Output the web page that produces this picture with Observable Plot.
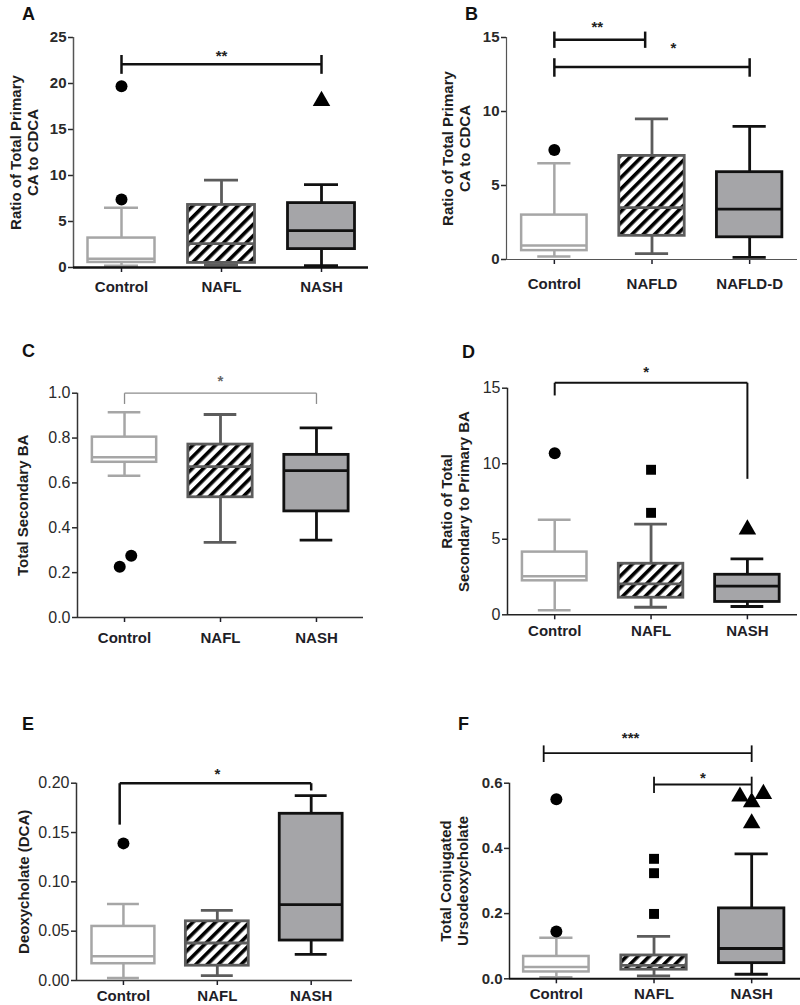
<!DOCTYPE html>
<html>
<head>
<meta charset="utf-8">
<script src="https://cdn.jsdelivr.net/npm/d3@7"></script>
<script src="https://cdn.jsdelivr.net/npm/@observablehq/plot@0.6"></script>
<style>
  html, body { margin: 0; padding: 0; background: #fff; }
  #fig { position: relative; width: 800px; height: 1005px; overflow: hidden; font-family: "Liberation Sans", Arial, sans-serif; }
  .panel { position: absolute; }
  .letter { position: absolute; font: bold 18px/18px "Liberation Sans", Arial, sans-serif; color: #111; }
</style>
</head>
<body>
<div id="fig"></div>
<script>
// ---------------- DATA ----------------
// Panel A: Ratio of Total Primary CA to CDCA
const aGroups = ["Control", "NAFL", "NASH"];
const aLow  = [0.2, 0.3, 0.2];
const aQ1   = [0.55, 0.5, 2.0];
const aMed  = [0.95, 2.6, 4.0];
const aQ3   = [3.2, 6.8, 7.0];
const aHigh = [6.5, 9.5, 9.0];
const aOutGroup = [0, 0, 2];
const aOutValue = [19.7, 7.4, 18.1];
const aOutShift = [0, 0, 0];
const aYTicks = [0, 5, 10, 15, 20, 25];
const aSigFrom = [0], aSigTo = [2], aSigY = [22.1];
const aSigFromLo = [21.05], aSigFromHi = [23.1], aSigToLo = [21.05], aSigToHi = [23.1];
const aSigLabel = ["**"], aSigLabelX = [1], aSigLabelY = [23.4];

// Panel B: Ratio of Total Primary CA to CDCA (NAFLD / NAFLD-D)
const bGroups = ["Control", "NAFLD", "NAFLD-D"];
const bLow  = [0.2, 0.4, 0.15];
const bQ1   = [0.6, 1.6, 1.5];
const bMed  = [0.95, 3.5, 3.4];
const bQ3   = [3.0, 7.0, 5.9];
const bHigh = [6.5, 9.5, 9.0];
const bOutGroup = [0];
const bOutValue = [7.4];
const bOutShift = [0];
const bYTicks = [0, 5, 10, 15];
const bSigFrom = [0, 0], bSigTo = [0.93, 2], bSigY = [14.85, 13.0];
const bSigFromLo = [14.3, 12.35], bSigFromHi = [15.4, 13.6], bSigToLo = [14.3, 12.35], bSigToHi = [15.4, 13.6];
const bSigLabel = ["**", "*"], bSigLabelX = [0.44, 1.22], bSigLabelY = [16.0, 14.55];

// Panel C: Total Secondary BA
const cGroups = ["Control", "NAFL", "NASH"];
const cLow  = [0.632, 0.335, 0.345];
const cQ1   = [0.692, 0.536, 0.473];
const cMed  = [0.714, 0.673, 0.655];
const cQ3   = [0.804, 0.771, 0.725];
const cHigh = [0.915, 0.905, 0.845];
const cOutGroup = [0, 0];
const cOutValue = [0.226, 0.275];
const cOutShift = [-0.05, 0.07];
const cYTicks = [0, 0.2, 0.4, 0.6, 0.8, 1.0];
const cSigFrom = [0], cSigTo = [2], cSigY = [1.0];
const cSigFromLo = [0.952], cSigFromHi = [1.0], cSigToLo = [0.952], cSigToHi = [1.0];
const cSigLabel = ["*"], cSigLabelX = [1], cSigLabelY = [1.071];

// Panel D: Ratio of Total Secondary to Primary BA
const dGroups = ["Control", "NAFL", "NASH"];
const dLow  = [0.3, 0.5, 0.55];
const dQ1   = [2.25, 1.13, 0.85];
const dMed  = [2.55, 2.05, 1.9];
const dQ3   = [4.15, 3.38, 2.65];
const dHigh = [6.3, 6.0, 3.7];
const dOutGroup = [0, 1, 1, 2];
const dOutValue = [10.7, 9.6, 6.75, 5.65];
const dOutShift = [0, 0, 0, 0];
const dYTicks = [0, 5, 10, 15];
const dSigFrom = [0], dSigTo = [2], dSigY = [15.36];
const dSigFromLo = [14.52], dSigFromHi = [15.36], dSigToLo = [9.0], dSigToHi = [15.36];
const dSigLabel = ["*"], dSigLabelX = [0.95], dSigLabelY = [16.33];

// Panel E: Deoxycholate (DCA)
const eGroups = ["Control", "NAFL", "NASH"];
const eLow  = [0.0025, 0.005, 0.0265];
const eQ1   = [0.017, 0.015, 0.0405];
const eMed  = [0.0245, 0.038, 0.077];
const eQ3   = [0.0548, 0.060, 0.169];
const eHigh = [0.0775, 0.071, 0.1875];
const eOutGroup = [0];
const eOutValue = [0.139];
const eOutShift = [0];
const eYTicks = [0, 0.05, 0.10, 0.15, 0.20];
const eSigFrom = [-0.04], eSigTo = [2], eSigY = [0.2];
const eSigFromLo = [0.158], eSigFromHi = [0.2], eSigToLo = [0.1926], eSigToHi = [0.2];
const eSigLabel = ["*"], eSigLabelX = [1], eSigLabelY = [0.213];

// Panel F: Total Conjugated Ursodeoxycholate
const fGroups = ["Control", "NAFL", "NASH"];
const fLow  = [0.005, 0.009, 0.014];
const fQ1   = [0.021, 0.028, 0.048];
const fMed  = [0.036, 0.041, 0.093];
const fQ3   = [0.0685, 0.0716, 0.216];
const fHigh = [0.126, 0.13, 0.383];
const fOutGroup = [0, 0, 1, 1, 1, 2, 2, 2, 2];
const fOutValue = [0.551, 0.145, 0.368, 0.324, 0.199, 0.559, 0.542, 0.567, 0.477];
const fOutShift = [0, 0, 0, 0, 0, -0.12, 0, 0.12, 0];
const fYTicks = [0, 0.2, 0.4, 0.6];
const fSigFrom = [-0.13, 1], fSigTo = [2, 2], fSigY = [0.692, 0.596];
const fSigFromLo = [0.665, 0.57], fSigFromHi = [0.716, 0.62], fSigToLo = [0.665, 0.57], fSigToHi = [0.716, 0.62];
const fSigLabel = ["***", "*"], fSigLabelX = [0.76, 1.5], fSigLabelY = [0.751, 0.629];

// ---------------- STYLE / LAYOUT ----------------
const FONT = '"Liberation Sans", Arial, Helvetica, sans-serif';
const BOX_HALF = 0.335;
const CAP_HALF = 0.17;
const groupStroke = ["#a6a6a6", "#5c5c5c", "#111111"];
const groupSymbol = ["circle", "square", "triangle"];
const symbolR = {circle: 6, square: 5.6, triangle: 6.5};
const nashFill = "#a5a5a8";

const panels = [
  {id: "A", groups: aGroups, low: aLow, q1: aQ1, med: aMed, q3: aQ3, high: aHigh,
   outGroup: aOutGroup, outValue: aOutValue, outShift: aOutShift, yTicks: aYTicks, yFormat: "d",
   sigFrom: aSigFrom, sigTo: aSigTo, sigY: aSigY, sigFromLo: aSigFromLo, sigFromHi: aSigFromHi, sigToLo: aSigToLo, sigToHi: aSigToHi,
   sigLabel: aSigLabel, sigLabelX: aSigLabelX, sigLabelY: aSigLabelY,
   title: "Ratio of Total Primary\nCA to CDCA",
   layout: {left: 0, top: 0, h: 330, mL: 73, mR: 32, mT: 37, mB: 63, xDomain: [-0.48, 2.47], yDomain: [0, 25],
     tickWeight: "bold", tickSize: 15, xPad: 9, titleOff: 49.5, yAxisW: 1.5, yAxisC: "#555", xAxisW: 2.5, xAxisC: "#111",
     sigC: "#111", sigW: 2.5, letter: [22, 20]}},
  {id: "B", groups: bGroups, low: bLow, q1: bQ1, med: bMed, q3: bQ3, high: bHigh,
   outGroup: bOutGroup, outValue: bOutValue, outShift: bOutShift, yTicks: bYTicks, yFormat: "d",
   sigFrom: bSigFrom, sigTo: bSigTo, sigY: bSigY, sigFromLo: bSigFromLo, sigFromHi: bSigFromHi, sigToLo: bSigToLo, sigToHi: bSigToHi,
   sigLabel: bSigLabel, sigLabelX: bSigLabelX, sigLabelY: bSigLabelY,
   title: "Ratio of Total Primary\nCA to CDCA",
   layout: {left: 400, top: 0, h: 330, mL: 106, mR: 3, mT: 37, mB: 71, xDomain: [-0.49, 2.49], yDomain: [0, 15],
     tickWeight: "bold", tickSize: 15, xPad: 14, titleOff: 50.5, yAxisW: 1.2, yAxisC: "#555", xAxisW: 1.2, xAxisC: "#555",
     sigC: "#111", sigW: 2.5, letter: [465, 20]}},
  {id: "C", groups: cGroups, low: cLow, q1: cQ1, med: cMed, q3: cQ3, high: cHigh,
   outGroup: cOutGroup, outValue: cOutValue, outShift: cOutShift, yTicks: cYTicks, yFormat: ".1f",
   sigFrom: cSigFrom, sigTo: cSigTo, sigY: cSigY, sigFromLo: cSigFromLo, sigFromHi: cSigFromHi, sigToLo: cSigToLo, sigToHi: cSigToHi,
   sigLabel: cSigLabel, sigLabelX: cSigLabelX, sigLabelY: cSigLabelY,
   title: "Total Secondary BA",
   layout: {left: 0, top: 330, h: 330, mL: 77, mR: 37, mT: 62.7, mB: 43, xDomain: [-0.49, 2.49], yDomain: [0, 1],
     tickWeight: "normal", tickSize: 16, xPad: 10, titleOff: 55, yAxisW: 1.5, yAxisC: "#333", xAxisW: 1.5, xAxisC: "#333",
     sigC: "#8c8c8c", sigW: 1.3, letter: [22, 357]}},
  {id: "D", groups: dGroups, low: dLow, q1: dQ1, med: dMed, q3: dQ3, high: dHigh,
   outGroup: dOutGroup, outValue: dOutValue, outShift: dOutShift, yTicks: dYTicks, yFormat: "d",
   sigFrom: dSigFrom, sigTo: dSigTo, sigY: dSigY, sigFromLo: dSigFromLo, sigFromHi: dSigFromHi, sigToLo: dSigToLo, sigToHi: dSigToHi,
   sigLabel: dSigLabel, sigLabelX: dSigLabelX, sigLabelY: dSigLabelY,
   title: "Ratio of Total\nSecondary to Primary BA",
   layout: {left: 400, top: 330, h: 330, mL: 107, mR: 3, mT: 57.7, mB: 45.7, xDomain: [-0.49, 2.52], yDomain: [0, 15],
     tickWeight: "normal", tickSize: 16, xPad: 6, titleOff: 52.5, yAxisW: 1.5, yAxisC: "#222", xAxisW: 1.5, xAxisC: "#222",
     sigC: "#111", sigW: 2, letter: [462, 358]}},
  {id: "E", groups: eGroups, low: eLow, q1: eQ1, med: eMed, q3: eQ3, high: eHigh,
   outGroup: eOutGroup, outValue: eOutValue, outShift: eOutShift, yTicks: eYTicks, yFormat: ".2f",
   sigFrom: eSigFrom, sigTo: eSigTo, sigY: eSigY, sigFromLo: eSigFromLo, sigFromHi: eSigFromHi, sigToLo: eSigToLo, sigToHi: eSigToHi,
   sigLabel: eSigLabel, sigLabelX: eSigLabelX, sigLabelY: eSigLabelY,
   title: "Deoxycholate (DCA)",
   layout: {left: 0, top: 660, h: 345, mL: 76, mR: 48, mT: 122.7, mB: 25, xDomain: [-0.5, 2.44], yDomain: [0, 0.2],
     tickWeight: "normal", tickSize: 16, xPad: 5, titleOff: 53, yAxisW: 1.5, yAxisC: "#333", xAxisW: 1.5, xAxisC: "#333",
     sigC: "#111", sigW: 2.5, letter: [22, 730]}},
  {id: "F", groups: fGroups, low: fLow, q1: fQ1, med: fMed, q3: fQ3, high: fHigh,
   outGroup: fOutGroup, outValue: fOutValue, outShift: fOutShift, yTicks: fYTicks, yFormat: ".1f",
   sigFrom: fSigFrom, sigTo: fSigTo, sigY: fSigY, sigFromLo: fSigFromLo, sigFromHi: fSigFromHi, sigToLo: fSigToLo, sigToHi: fSigToHi,
   sigLabel: fSigLabel, sigLabelX: fSigLabelX, sigLabelY: fSigLabelY,
   title: "Total Conjugated\nUrsodeoxycholate",
   layout: {left: 400, top: 660, h: 345, mL: 109, mR: 0, mT: 122.7, mB: 26.7, xDomain: [-0.48, 2.5], yDomain: [0, 0.6],
     tickWeight: "bold", tickSize: 15, xPad: 5, titleOff: 55, yAxisW: 1.5, yAxisC: "#222", xAxisW: 2, xAxisC: "#111",
     sigC: "#111", sigW: 1.8, letter: [458, 730]}}
];

const fig = document.getElementById("fig");

function makePanel(p) {
  const L = p.layout;
  const hatchId = "hatch-" + p.id;
  const boxes = p.groups.map((g, i) => ({i, low: p.low[i], q1: p.q1[i], med: p.med[i], q3: p.q3[i], high: p.high[i]}));
  const outliers = p.outValue.map((v, k) => ({x: p.outGroup[k] + p.outShift[k], y: v, symbol: groupSymbol[p.outGroup[k]]}));
  const sig = p.sigFrom.map((f, k) => ({from: f, to: p.sigTo[k], y: p.sigY[k],
    fromLo: p.sigFromLo[k], fromHi: p.sigFromHi[k], toLo: p.sigToLo[k], toHi: p.sigToHi[k],
    label: p.sigLabel[k], lx: p.sigLabelX[k], ly: p.sigLabelY[k]}));
  const segs = sig.flatMap(s => [
    {x1: s.from, x2: s.to, y1: s.y, y2: s.y},
    {x1: s.from, x2: s.from, y1: s.fromLo, y2: s.fromHi},
    {x1: s.to, x2: s.to, y1: s.toLo, y2: s.toHi}
  ]);
  const fills = ["#ffffff", `url(#${hatchId})`, nashFill];

  const boxMarks = boxes.flatMap(b => {
    const c = groupStroke[b.i];
    const w = b.i === 0 ? 2.5 : 2.8;
    return [
      Plot.ruleX([b], {x: "i", y1: "q3", y2: "high", stroke: c, strokeWidth: w}),
      Plot.ruleX([b], {x: "i", y1: "low", y2: "q1", stroke: c, strokeWidth: w}),
      Plot.ruleY([b], {y: "high", x1: d => d.i - CAP_HALF, x2: d => d.i + CAP_HALF, stroke: c, strokeWidth: w}),
      Plot.ruleY([b], {y: "low", x1: d => d.i - CAP_HALF, x2: d => d.i + CAP_HALF, stroke: c, strokeWidth: w}),
      Plot.rectY([b], {x1: d => d.i - BOX_HALF, x2: d => d.i + BOX_HALF, y1: "q1", y2: "q3",
        fill: fills[b.i], stroke: c, strokeWidth: w}),
      Plot.ruleY([b], {y: "med", x1: d => d.i - BOX_HALF, x2: d => d.i + BOX_HALF, stroke: c, strokeWidth: w})
    ];
  });

  const dotMarks = groupSymbol.map(sym =>
    Plot.dot(outliers.filter(o => o.symbol === sym), {x: "x", y: "y", symbol: sym, r: symbolR[sym], fill: "#000", stroke: "none"})
  );

  const svg = Plot.plot({
    width: 400,
    height: L.h,
    marginLeft: L.mL, marginRight: L.mR, marginTop: L.mT, marginBottom: L.mB,
    x: {domain: L.xDomain, axis: null},
    y: {domain: L.yDomain, axis: null},
    style: {fontFamily: FONT, background: "transparent", overflow: "visible"},
    marks: [
      ...boxMarks,
      ...dotMarks,
      Plot.axisY({ticks: p.yTicks, tickFormat: d3.format(p.yFormat), tickSize: 5, tickPadding: 2,
        fontSize: L.tickSize, fontWeight: L.tickWeight, color: "#2a2a2a", strokeWidth: 1.5, label: null}),
      Plot.axisX({ticks: [0, 1, 2], tickFormat: i => p.groups[i], tickSize: 5, tickPadding: L.xPad,
        fontSize: 15, fontWeight: "bold", color: "#1e1e28", strokeWidth: 1.5, label: null}),
      Plot.ruleX([L.xDomain[0]], {stroke: L.yAxisC, strokeWidth: L.yAxisW}),
      Plot.ruleY([0], {stroke: L.xAxisC, strokeWidth: L.xAxisW}),
      Plot.link(segs, {x1: "x1", y1: "y1", x2: "x2", y2: "y2", stroke: L.sigC, strokeWidth: L.sigW}),
      Plot.text(sig, {x: "lx", y: "ly", text: "label", fontSize: 15, fontWeight: "bold", fill: L.sigC === "#111" ? "#222" : "#666", dy: 4}),
      Plot.text([p.title], {text: d => d, frameAnchor: "left", textAnchor: "middle", lineAnchor: "middle",
        rotate: -90, dx: -L.titleOff, fontSize: 15, fontWeight: "bold", lineHeight: 1.13, fill: "#1e1e1e"})
    ]
  });

  // hatch pattern for the NAFL / NAFLD box
  const defs = d3.select(svg).insert("defs", ":first-child");
  const pat = defs.append("pattern").attr("id", hatchId)
    .attr("patternUnits", "userSpaceOnUse").attr("width", 8).attr("height", 8)
    .attr("patternTransform", "rotate(45)");
  pat.append("rect").attr("width", 8).attr("height", 8).attr("fill", "#fff");
  pat.append("rect").attr("width", 3.6).attr("height", 8).attr("fill", "#000");

  const holder = document.createElement("div");
  holder.className = "panel";
  holder.style.left = L.left + "px";
  holder.style.top = L.top + "px";
  holder.appendChild(svg);
  fig.appendChild(holder);

  const letter = document.createElement("div");
  letter.className = "letter";
  letter.textContent = p.id;
  letter.style.left = L.letter[0] + "px";
  letter.style.top = (L.letter[1] - 15.2) + "px";
  fig.appendChild(letter);
}

panels.forEach(makePanel);
</script>
</body>
</html>
